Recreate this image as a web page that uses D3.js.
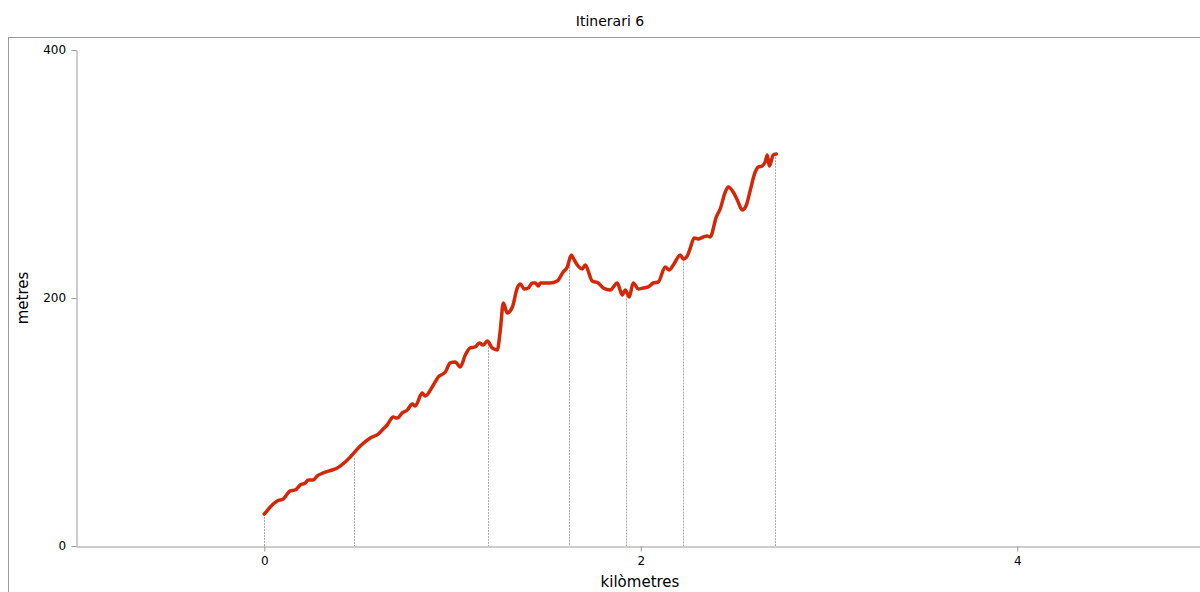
<!DOCTYPE html>
<html><head><meta charset="utf-8">
<script src="https://cdn.jsdelivr.net/npm/d3@7"></script>
<style>
body{margin:0;background:#fff;}
svg{display:block;font-family:"DejaVu Sans",sans-serif;}
</style></head><body>
<svg id="c" width="1200" height="592"></svg>
<script>
const distanceKm = [0.000,0.005,0.032,0.069,0.101,0.138,0.165,0.191,0.218,0.234,0.260,0.282,0.313,0.361,0.388,0.430,0.457,0.510,0.563,0.606,0.632,0.653,0.685,0.707,0.733,0.760,0.786,0.802,0.839,0.855,0.892,0.908,0.924,0.962,0.988,1.015,1.041,1.068,1.094,1.121,1.142,1.163,1.185,1.211,1.238,1.254,1.270,1.291,1.318,1.344,1.360,1.381,1.402,1.424,1.440,1.456,1.466,1.519,1.556,1.588,1.610,1.631,1.641,1.663,1.689,1.705,1.742,1.774,1.801,1.838,1.875,1.902,1.918,1.939,1.960,1.987,2.013,2.040,2.066,2.093,2.130,2.151,2.173,2.210,2.226,2.247,2.263,2.284,2.305,2.332,2.353,2.369,2.401,2.422,2.449,2.465,2.491,2.513,2.539,2.561,2.582,2.608,2.624,2.645,2.661,2.672,2.683,2.704,2.720];
const elevationM = [25.8,26.6,31.5,36.3,37.9,44.4,45.2,49.2,50.8,53.2,53.2,56.5,58.9,61.3,62.9,67.7,71.8,80.6,87.1,90.3,94.4,97.6,104.0,103.2,107.3,109.7,114.5,112.9,123.4,121.0,128.2,132.3,136.3,140.3,147.6,148.4,144.4,154.0,159.7,160.5,163.7,162.1,165.3,159.7,158.1,174.2,196.0,187.9,192.7,208.1,211.3,207.3,208.1,212.1,212.1,209.7,212.1,212.1,213.7,221.0,225.0,234.7,232.3,226.6,223.4,226.6,213.7,212.1,208.1,206.5,212.1,202.4,206.5,200.8,212.1,207.3,208.1,208.9,212.1,212.9,225.0,222.6,226.6,234.7,231.5,233.9,240.3,248.4,247.6,249.2,250.0,249.2,265.3,271.8,285.5,289.5,285.5,279.0,271.0,275.0,287.1,301.6,305.6,306.5,309.7,315.3,306.5,315.3,316.1];
const waypointKm = [0, 0.478, 1.19, 1.62, 1.923, 2.226, 2.714];
const waypointM = [25.8, 71, 163, 230, 202, 231, 316];
const xTicks = [0, 2, 4];
const yTicks = [0, 200, 400];
const title = "Itinerari 6";
const xTitle = "kilòmetres";
const yTitle = "metres";

const svg = d3.select("#c");
const mLeft = 76, mTop = 50, mBottom = 546;
const x = d3.scaleLinear().domain([-1, 5]).range([mLeft, mLeft + 6 * 188.25]);
const y = d3.scaleLinear().domain([0, 400]).range([mBottom, mTop]);

// outer frame
svg.append("rect").attr("x", 8.5).attr("y", 37.5).attr("width", 1200).attr("height", 600)
  .attr("fill", "none").attr("stroke", "#999").attr("stroke-width", 1);

svg.append("text").attr("x", 610).attr("y", 26).attr("text-anchor", "middle")
  .attr("font-size", 14).attr("fill", "#000").text(title);

// waypoint dashed verticals
svg.append("g").selectAll("line").data(waypointKm).join("line")
  .attr("x1", d => Math.round(x(d)) + 0.5).attr("x2", d => Math.round(x(d)) + 0.5)
  .attr("y1", (d, i) => y(waypointM[i])).attr("y2", mBottom)
  .attr("stroke", "#aaa").attr("stroke-width", 1).attr("stroke-dasharray", "2,1");

// axes
const xAxis = d3.axisBottom(x).tickValues(xTicks).tickSize(5).tickSizeOuter(0).tickFormat(d3.format("d"));
const gx = svg.append("g").attr("transform", `translate(0,${mBottom + 0.5})`).call(xAxis);
const yAxis = d3.axisLeft(y).tickValues(yTicks).tickSize(5).tickSizeOuter(0).tickFormat(d3.format("d"));
const gy = svg.append("g").attr("transform", `translate(${mLeft + 0.5},0)`).call(yAxis);
[gx, gy].forEach(g => {
  g.select(".domain").attr("stroke", "#999");
  g.selectAll(".tick line").attr("stroke", "#999");
  g.selectAll(".tick text").attr("font-size", 12).attr("fill", "#000").attr("font-family", "DejaVu Sans, sans-serif");
});
gx.selectAll(".tick text").attr("dy", "0.9em");
gy.selectAll(".tick text").attr("dx", "-0.2em");

svg.append("text").attr("x", 640).attr("y", 587).attr("text-anchor", "middle")
  .attr("font-size", 15).attr("fill", "#000").text(xTitle);
svg.append("text").attr("transform", `translate(28,${y(200)}) rotate(-90)`).attr("text-anchor", "middle")
  .attr("font-size", 15).attr("fill", "#000").text(yTitle);

// profile line
const pts = distanceKm.map((d, i) => [d, elevationM[i]]);
const line = d3.line().x(d => x(d[0])).y(d => y(d[1])).curve(d3.curveMonotoneX);
svg.append("path").datum(pts).attr("d", line).attr("fill", "none")
  .attr("stroke", "#d42708").attr("stroke-width", 3.5).attr("stroke-linejoin", "round").attr("stroke-linecap", "round");
</script>
</body></html>
